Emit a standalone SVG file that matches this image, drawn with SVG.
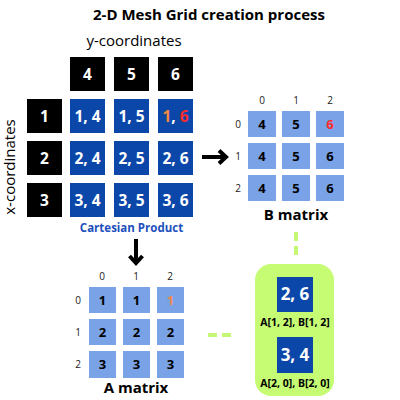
<svg xmlns="http://www.w3.org/2000/svg" width="400" height="400" viewBox="0 0 400 400">
<defs>
<style>
text{font-family:"Open Sans","Liberation Sans",sans-serif;text-anchor:middle}
.title{font-size:15px;font-weight:bold;fill:#000}
.lbl{font-size:15px;fill:#000}
.blk{fill:#000}
.blu{fill:#0a47a9}
.lb{fill:#79a3e6}
.wt{font-size:15.5px;font-weight:bold;fill:#fff}
.bt{font-size:13px;font-weight:bold;fill:#000}
.idx{font-size:10px;fill:#222}
.mt{font-size:15px;font-weight:bold;fill:#000}
.cap{font-size:10.5px;font-weight:bold;fill:#000}
.grn{stroke:#c6f774;stroke-width:4;fill:none;stroke-dasharray:9,5}
.arr{stroke:#000;stroke-width:4;fill:none}
</style>
</defs>
<rect width="400" height="400" fill="#fff"/>
<text class="title" x="209" y="20">2-D Mesh Grid creation process</text>
<text class="lbl" x="134" y="46">y-coordinates</text>
<text class="lbl" transform="translate(15,167) rotate(-90)">x-coordinates</text>

<g id="ycoords">
<rect class="blk" x="70" y="57" width="35" height="34"/><text class="wt" x="87.5" y="79.5">4</text>
<rect class="blk" x="114" y="57" width="35" height="34"/><text class="wt" x="131.5" y="79.5">5</text>
<rect class="blk" x="158" y="57" width="35" height="34"/><text class="wt" x="175.5" y="79.5">6</text>
</g>
<g id="xcoords">
<rect class="blk" x="27" y="99" width="35" height="34"/><text class="wt" x="44.5" y="121.5">1</text>
<rect class="blk" x="27" y="141" width="35" height="34"/><text class="wt" x="44.5" y="163.5">2</text>
<rect class="blk" x="27" y="183" width="35" height="34"/><text class="wt" x="44.5" y="205.5">3</text>
</g>
<g id="cartesian">
<rect class="blu" x="70" y="99" width="35" height="34"/><text class="wt" x="87.5" y="121.5">1, 4</text>
<rect class="blu" x="114" y="99" width="35" height="34"/><text class="wt" x="131.5" y="121.5">1, 5</text>
<rect class="blu" x="158" y="99" width="35" height="34"/><text class="wt" x="175.5" y="121.5"><tspan fill="#f5893f">1</tspan>, <tspan fill="#ff2b2b">6</tspan></text>
<rect class="blu" x="70" y="141" width="35" height="34"/><text class="wt" x="87.5" y="163.5">2, 4</text>
<rect class="blu" x="114" y="141" width="35" height="34"/><text class="wt" x="131.5" y="163.5">2, 5</text>
<rect class="blu" x="158" y="141" width="35" height="34"/><text class="wt" x="175.5" y="163.5">2, 6</text>
<rect class="blu" x="70" y="183" width="35" height="34"/><text class="wt" x="87.5" y="205.5">3, 4</text>
<rect class="blu" x="114" y="183" width="35" height="34"/><text class="wt" x="131.5" y="205.5">3, 5</text>
<rect class="blu" x="158" y="183" width="35" height="34"/><text class="wt" x="175.5" y="205.5">3, 6</text>
<text x="131.5" y="232" style="font-size:11.5px;font-weight:bold;fill:#1d4fbd">Cartesian Product</text>
</g>

<g id="bmatrix">
<text class="idx" x="262" y="104">0</text><text class="idx" x="296" y="104">1</text><text class="idx" x="330" y="104">2</text>
<text class="idx" x="238" y="128">0</text><text class="idx" x="238" y="160">1</text><text class="idx" x="238" y="192">2</text>
<rect class="lb" x="248" y="111" width="28" height="26"/><text class="bt" x="262" y="129">4</text>
<rect class="lb" x="282" y="111" width="28" height="26"/><text class="bt" x="296" y="129">5</text>
<rect class="lb" x="316" y="111" width="28" height="26"/><text class="bt" x="330" y="129" style="fill:#ff2b2b">6</text>
<rect class="lb" x="248" y="143" width="28" height="26"/><text class="bt" x="262" y="161">4</text>
<rect class="lb" x="282" y="143" width="28" height="26"/><text class="bt" x="296" y="161">5</text>
<rect class="lb" x="316" y="143" width="28" height="26"/><text class="bt" x="330" y="161">6</text>
<rect class="lb" x="248" y="175" width="28" height="26"/><text class="bt" x="262" y="193">4</text>
<rect class="lb" x="282" y="175" width="28" height="26"/><text class="bt" x="296" y="193">5</text>
<rect class="lb" x="316" y="175" width="28" height="26"/><text class="bt" x="330" y="193">6</text>
<text class="mt" x="296" y="220">B matrix</text>
</g>

<g id="amatrix">
<text class="idx" x="102" y="280">0</text><text class="idx" x="136" y="280">1</text><text class="idx" x="170" y="280">2</text>
<text class="idx" x="78" y="304">0</text><text class="idx" x="78" y="336">1</text><text class="idx" x="78" y="368">2</text>
<rect class="lb" x="89" y="287" width="27" height="26"/><text class="bt" x="102.5" y="305">1</text>
<rect class="lb" x="123" y="287" width="27" height="26"/><text class="bt" x="136.5" y="305">1</text>
<rect class="lb" x="157" y="287" width="27" height="26"/><text class="bt" x="170.5" y="305" style="fill:#f0894f">1</text>
<rect class="lb" x="89" y="319" width="27" height="26"/><text class="bt" x="102.5" y="337">2</text>
<rect class="lb" x="123" y="319" width="27" height="26"/><text class="bt" x="136.5" y="337">2</text>
<rect class="lb" x="157" y="319" width="27" height="26"/><text class="bt" x="170.5" y="337">2</text>
<rect class="lb" x="89" y="351" width="27" height="27"/><text class="bt" x="102.5" y="369">3</text>
<rect class="lb" x="123" y="351" width="27" height="27"/><text class="bt" x="136.5" y="369">3</text>
<rect class="lb" x="157" y="351" width="27" height="27"/><text class="bt" x="170.5" y="369">3</text>
<text class="mt" x="136" y="393">A matrix</text>
</g>

<g id="examples">
<rect x="255" y="264" width="79" height="132" rx="16" fill="#c6fb74"/>
<rect class="blu" x="277" y="277" width="36" height="35"/><text class="wt" x="295" y="300" style="font-size:17px">2, 6</text>
<text class="cap" x="295" y="326">A[1, 2], B[1, 2]</text>
<rect class="blu" x="277" y="337" width="36" height="36"/><text class="wt" x="295" y="361" style="font-size:17px">3, 4</text>
<text class="cap" x="295" y="387">A[2, 0], B[2, 0]</text>
</g>

<g id="connectors">
<path class="arr" d="M202,157 H225 M219,150.5 L226,157 L219,163.5"/>
<path class="arr" d="M136,239 V262 M129.5,256 L136,263 L142.5,256"/>
<line class="grn" x1="296" y1="232" x2="296" y2="258"/>
<line class="grn" x1="208" y1="335" x2="235" y2="335"/>
</g>
</svg>
